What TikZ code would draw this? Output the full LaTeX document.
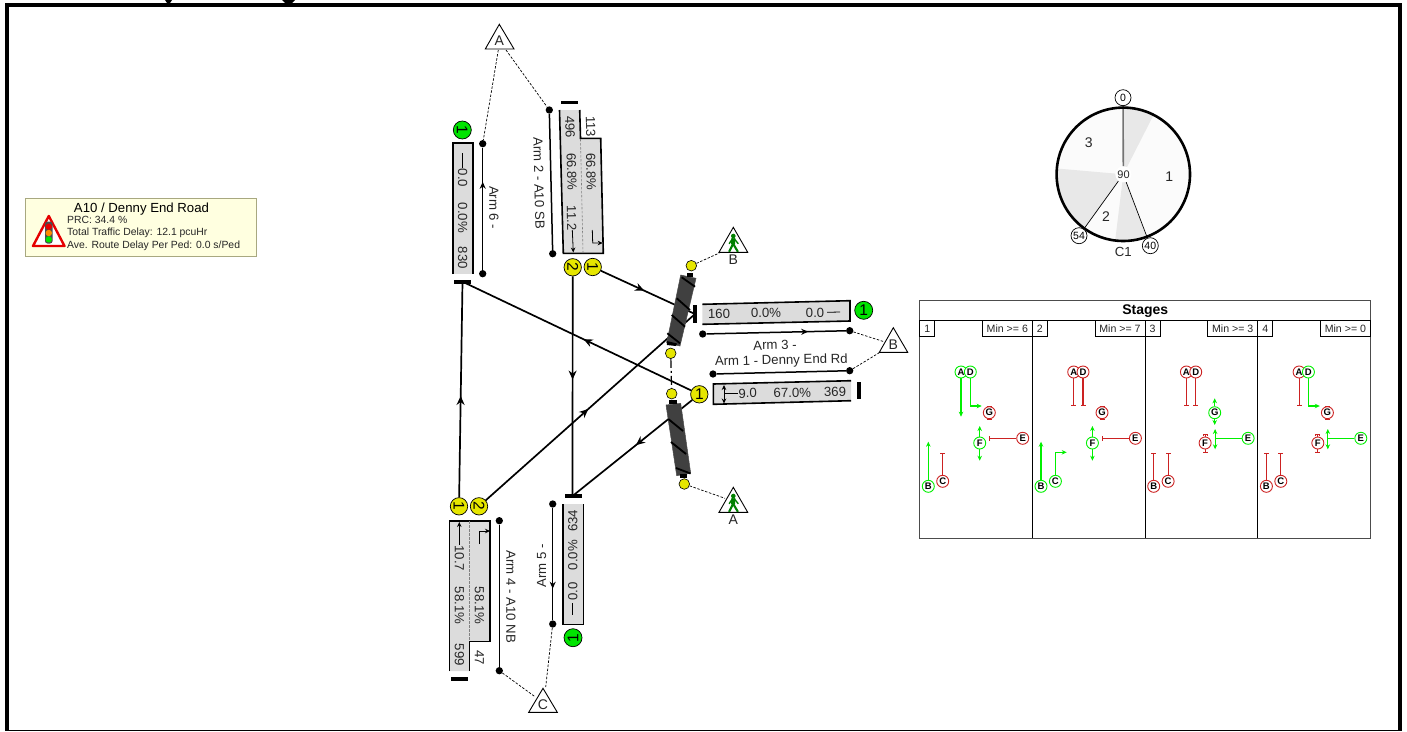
\documentclass[tikz,border=0pt]{standalone}
\usepackage{fontspec}
\setmainfont{Liberation Sans}
\usetikzlibrary{arrows.meta,decorations.markings}
\definecolor{lanegray}{HTML}{DCDCDC}
\definecolor{sigyellow}{HTML}{E6E600}
\definecolor{siggreen}{HTML}{00E400}
\definecolor{stopred}{HTML}{CC2222}
\definecolor{stopgreen}{HTML}{00F000}
\definecolor{infobg}{HTML}{FFFFE0}
\definecolor{infoline}{HTML}{A8A880}
\definecolor{crossdark}{HTML}{404040}
\definecolor{sectorgray}{HTML}{E8E8E8}
\definecolor{sectorlight}{HTML}{FBFBFB}
\definecolor{pedgreen}{HTML}{008000}
\tikzset{
  lbl/.style={inner sep=0pt,text=black!85,font=\fontsize{13.2}{14}\selectfont},
  armlbl/.style={inner sep=0pt,text=black!85,font=\fontsize{13.2}{14}\selectfont},
  trilbl/.style={inner sep=0pt,text=black!85,font=\fontsize{14}{14}\selectfont},
  lanefill/.style={fill=lanegray},
  laneedge/.style={draw=black,line width=1.6pt},
  stopbar/.style={line width=3.6pt,black},
  link/.style={line width=1.7pt,black},
  armline/.style={line width=1.5pt,black},
  dot/.style={circle,fill=black,inner sep=0pt,minimum size=7.3pt},
  tie/.style={dashed,dash pattern=on 2.5pt off 1.6pt,line width=.7pt,black},
  tri/.style={draw=black,line width=.9pt,fill=white},
  sigy/.style={circle,draw=black,line width=.7pt,fill=sigyellow,minimum size=17.4pt,inner sep=0pt,text=black,font=\fontsize{15.5}{16}\selectfont},
  sigg/.style={circle,draw=black,line width=.7pt,fill=siggreen,minimum size=18pt,inner sep=0pt,text=black,font=\fontsize{15.5}{16}\selectfont},
  pedy/.style={circle,draw=black,line width=.6pt,fill=sigyellow,minimum size=10.6pt,inner sep=0pt},
  midarr/.style={postaction={decorate,decoration={markings,mark=at position #1 with {\arrow{Stealth[length=9pt,width=8pt]}}}}},
  armarr/.style={postaction={decorate,decoration={markings,mark=at position #1 with {\arrow{Stealth[length=7pt,width=6pt]}}}}},
  smalltip/.style={-{Stealth[length=5pt,width=4.5pt]}},
  sg/.style={circle,fill=white,line width=.9pt,minimum size=12pt,inner sep=0pt,text=black,font=\bfseries\fontsize{9.5}{10}\selectfont},
  gol/.style={draw=stopgreen,line width=1.1pt},
  rol/.style={draw=stopred,line width=1.1pt,-{Bar[width=5pt,length=1.2pt]}},
  tickc/.style={circle,draw=black,line width=.7pt,fill=white,minimum size=16pt,inner sep=0pt,font=\fontsize{10.5}{11}\selectfont},
  stagetxt/.style={inner sep=0pt,text=black!85,font=\fontsize{10.6}{11}\selectfont},
  crossbody/.style={fill=crossdark,draw=black!70,line width=.5pt},
  stripe/.style={black,line width=1.8pt},
}
\newcommand{\pedman}[2]{%
  \fill[pedgreen] (#1,#2+8.7) circle (2.3pt);
  \draw[pedgreen,line width=4pt] (#1,#2+11) -- (#1-.2,#2+17);
  \draw[pedgreen,line width=2.1pt] (#1-.2,#2+16.5) -- (#1-4.2,#2+24.5);
  \draw[pedgreen,line width=2.1pt] (#1-.2,#2+16.5) -- (#1+4.6,#2+24.5);
  \draw[pedgreen,line width=1.4pt] (#1+.5,#2+11) -- (#1+5,#2+16.5);
  \draw[pedgreen,line width=1.4pt] (#1-.5,#2+11) -- (#1-4.2,#2+16.5);
}
\newcommand{\gosig}[3]{\coordinate (#3) at (#2); \draw[gol,smalltip] (#1) -- (#3);}
\newcommand{\turnsig}[3]{\coordinate (#3) at (#2); \draw[gol,smalltip] (#1) |- (#3);}
\newcommand{\stopsig}[3]{\coordinate (#3) at (#2); \draw[rol] (#1) -- (#3);}
\newcommand{\signals}[8]{%
  \node[sg,draw=#2] (#1A) at (41.3,372) {A};
  \node[sg,draw=#3] (#1D) at (50.6,372) {D};
  \node[sg,draw=#4] (#1G) at (69.6,412.7) {G};
  \node[sg,draw=#5] (#1F) at (60,443) {F};
  \node[sg,draw=#6] (#1E) at (103,438.3) {E};
  \node[sg,draw=#7] (#1B) at (8.6,486.3) {B};
  \node[sg,draw=#8] (#1C) at (23,481.3) {C};
}
\newcommand{\stagehead}[3]{%
  \draw[black,line width=.9pt] (0,336.3) rectangle (15,320.7);
  \node[stagetxt] (#1num) at (7.5,328.5) {#2};
  \draw[black,line width=.9pt] (62.6,336.3) rectangle (112.7,320.7);
  \node[stagetxt] (#1min) at (87.6,328.5) {Min >= #3};
}
\begin{document}
\begin{tikzpicture}[x=1pt,y=-1pt]
\useasboundingbox (0,0) rectangle (1407,731);
% frame
\fill[black] (5,3) rectangle (1402,7);
\fill[black] (5,3) rectangle (9,731);
\fill[black] (1398,3) rectangle (1402,731);
\fill[black] (5,730) rectangle (1402,731);
\fill[black] (165,0) -- (172,0) -- (170,3) -- (167,3) -- cycle;
\fill[black] (282,0) -- (295,0) -- (292,3) -- (285,3) -- cycle;

% info box
\draw[infoline,fill=infobg,line width=.8pt] (25.3,198.7) rectangle (256.7,256.3);
\node[inner sep=0pt,text=black,font=\fontsize{13.2}{14}\selectfont] (infotitle) at (141.5,208.7) {A10 / Denny End Road};
\node[inner sep=0pt,anchor=west,text=black!85,font=\fontsize{10.4}{11}\selectfont] (info1) at (67,219.5) {PRC: 34.4 \%};
\node[inner sep=0pt,anchor=west,text=black!85,font=\fontsize{10.4}{11}\selectfont] (info2) at (67,232.5) {Total Traffic Delay: 12.1 pcuHr};
\node[inner sep=0pt,anchor=west,text=black!85,font=\fontsize{10.4}{11}\selectfont] (info3) at (67,245.5) {Ave. Route Delay Per Ped: 0.0 s/Ped};
\draw[draw=red!90!black,fill=white,line width=2.4pt,line join=round] (48.8,216) -- (64.5,246) -- (33,246) -- cycle;
\fill[black!70,rounded corners=2.5pt] (45,221.7) rectangle (52.6,243.5);
\fill[red!90!black] (48.8,226.7) circle (3.2pt);
\fill[orange!90!yellow] (48.8,233) circle (3.2pt);
\fill[green!90!black] (48.8,239.4) circle (3.2pt);

% key coordinates
\coordinate (stop3) at (695,314);
\coordinate (stop5) at (572.5,496);
\coordinate (stop6) at (462.5,281.7);

% signal heads
\node[sigy,rotate=-90] (s2b) at (572.7,267.3) {2};
\node[sigy,rotate=-90] (s2a) at (592.7,267) {1};
\node[sigy,rotate=-90] (s4a) at (459,506.3) {1};
\node[sigy,rotate=-90] (s4b) at (479,506.3) {2};
\node[sigy] (s1a) at (699.3,394.3) {1};
\node[sigg,rotate=-90] (s6) at (462.3,130) {1};
\node[sigg,rotate=90] (s5) at (573,637.7) {1};
\node[sigg] (s3) at (863.7,310.3) {1};

% links
\draw[link,midarr=.46] (s2a) -- (stop3);
\draw[link,midarr=.47] (s2b) -- (stop5);
\draw[link,midarr=.47] (s4a) -- (stop6);
\draw[link,midarr=.49] (s4b) -- (stop3);
\draw[link,midarr=.47] (s1a) -- (stop6);
\draw[link,midarr=.47] (s1a) -- (stop5);

% stop bars
\draw[stopbar] (561,102.3) -- (578.3,102.3);
\draw[stopbar] (454,281.7) -- (471,281.7);
\draw[stopbar] (695,305) -- (695,322.7);
\draw[stopbar] (565,496) -- (581.7,496);
\draw[stopbar] (858.7,382.3) -- (858.7,399);
\draw[stopbar] (451,679) -- (467.7,679);

% arm 6 lane
\fill[lanefill] (452.7,143) rectangle (473,274);
\draw[laneedge] (452.7,274) -- (452.7,143) -- (473,143) -- (473,274);
\node[lbl,rotate=-90] (l6a) at (462.6,178) {0.0};
\node[lbl,rotate=-90] (l6b) at (462.6,218) {0.0\%};
\node[lbl,rotate=-90] (l6c) at (462.6,258) {830};
\draw[black,line width=.8pt] (462.6,153) -- (462.6,168);

% arm 2 lane
\fill[lanefill] (559.5,110) -- (563.3,253.3) -- (603.3,253.3) -- (600.7,138.3) -- (580.5,138.3) -- (579.7,110) -- cycle;
\draw[laneedge,line join=miter] (559.5,110) -- (563.3,253.3) -- (603.3,253.3) -- (600.7,138.3) -- (580.5,138.3) -- (579.7,110);
\draw[gray,line width=.6pt,dashed,dash pattern=on 2.5pt off 1.5pt] (580.5,139) -- (583,253);
\node[lbl,rotate=-88.6] (l2a) at (570,127) {496};
\node[lbl,rotate=-88.6] (l2b) at (590.7,126.7) {113};
\node[lbl,rotate=-88.6] (l2c) at (571.7,171.7) {66.8\%};
\node[lbl,rotate=-88.6] (l2d) at (591,171.7) {66.8\%};
\node[lbl,rotate=-88.6] (l2e) at (571.7,218) {11.2};
\draw[black,line width=.8pt,smalltip] (572.3,230) -- (573.3,252.5);
\draw[black,line width=.8pt,smalltip] (592.3,230) -- (592.7,243) -- (602.7,243);

% arm 3 lane
\fill[lanefill] (702.3,304.3) -- (850,300.7) -- (850,321) -- (702.3,324.3) -- cycle;
\draw[laneedge] (702.3,304.3) -- (850,300.7) -- (850,321) -- (702.3,324.3);
\node[lbl,rotate=1.3] (l3a) at (719,314) {160};
\node[lbl,rotate=1.3] (l3b) at (766,312.7) {0.0\%};
\node[lbl,rotate=1.3] (l3c) at (815,312.7) {0.0};
\draw[black,line width=.8pt] (827,312.3) -- (840,312);

% arm 1 lane
\fill[lanefill] (713.3,384) -- (851,380.7) -- (851,400.7) -- (713.3,404.3) -- cycle;
\draw[laneedge] (851,380.7) -- (713.3,384) -- (713.3,404.3) -- (851,400.7);
\draw[black,line width=.8pt,{Stealth[length=5pt,width=4.5pt]}-{Stealth[length=5pt,width=4.5pt]}] (724,385) -- (724,403.5);
\draw[black,line width=.8pt] (724,393.5) -- (738,393.5);
\node[lbl,rotate=1.3] (l1a) at (747.7,393.3) {9.0};
\node[lbl,rotate=1.3] (l1b) at (792.3,392.7) {67.0\%};
\node[lbl,rotate=1.3] (l1c) at (835,391.7) {369};

% arm 4 lane
\fill[lanefill] (449.3,671) -- (449.3,520.7) -- (490,520.7) -- (490,641.3) -- (469.3,641.3) -- (469.3,671) -- cycle;
\draw[laneedge] (449.3,671) -- (449.3,520.7) -- (490,520.7) -- (490,641.3) -- (469.3,641.3) -- (469.3,671);
\draw[gray,line width=.6pt,dashed,dash pattern=on 2.5pt off 1.5pt] (469.3,521) -- (469.3,641);
\node[lbl,rotate=-90] (l4a) at (459.3,558.3) {10.7};
\node[lbl,rotate=-90] (l4b) at (459.3,605.5) {58.1\%};
\node[lbl,rotate=-90] (l4c) at (479.3,605.5) {58.1\%};
\node[lbl,rotate=-90] (l4d) at (459.3,655) {599};
\node[lbl,rotate=-90] (l4e) at (479.3,657.7) {47};
\draw[black,line width=.8pt,smalltip] (459.3,545) -- (459.3,522);
\draw[black,line width=.8pt,smalltip] (479.3,544) -- (479.3,531) -- (490,531);

% arm 5 lane
\fill[lanefill] (562.7,504) rectangle (583.3,624.3);
\draw[laneedge] (562.7,504) -- (562.7,624.3) -- (583.3,624.3) -- (583.3,504);
\node[lbl,rotate=90] (l5a) at (572.8,520.7) {634};
\node[lbl,rotate=90] (l5b) at (572.8,555) {0.0\%};
\node[lbl,rotate=90] (l5c) at (572.8,591.7) {0.0};
\draw[black,line width=.8pt] (572.8,603) -- (572.8,615);

% arm lines
\node[dot] (d6a) at (482.7,143.7) {};
\node[dot] (d6b) at (482.7,273.7) {};
\draw[armline,armarr=.72] (d6b) -- (d6a);
\node[dot] (d2a) at (549.3,110) {};
\node[dot] (d2b) at (552.7,253.7) {};
\draw[armline] (d2a) -- (d2b);
\node[dot] (d3a) at (702.7,334) {};
\node[dot] (d3b) at (849.7,330.7) {};
\draw[armline,armarr=.73] (d3a) -- (d3b);
\node[dot] (d1a) at (713,374) {};
\node[dot] (d1b) at (849.7,370.7) {};
\draw[armline] (d1a) -- (d1b);
\node[dot] (d4a) at (499.3,520.7) {};
\node[dot] (d4b) at (499.3,670.7) {};
\draw[armline] (d4a) -- (d4b);
\node[dot] (d5a) at (552.7,504) {};
\node[dot] (d5b) at (552.7,624) {};
\draw[armline,armarr=.72] (d5a) -- (d5b);

\node[armlbl,rotate=-90] (a6) at (494,207.7) {Arm 6 -};
\node[armlbl,rotate=-88.6] (a2) at (539,183) {Arm 2 - A10 SB};
\node[armlbl,rotate=1.3] (a3) at (775,345) {Arm 3 -};
\node[armlbl,rotate=1.3] (a1) at (781.3,361) {Arm 1 - Denny End Rd};
\node[armlbl,rotate=-90] (a4) at (511,596.7) {Arm 4 - A10 NB};
\node[armlbl,rotate=90] (a5) at (541.7,566) {Arm 5 -};

% triangles
\draw[tri] (499.3,24.3) -- (514,49) -- (485.3,49) -- cycle;
\coordinate (triAa) at (498.3,50);
\coordinate (triAb) at (506,50);
\node[trilbl] (tA) at (499.3,40.5) {A};
\draw[tri] (893.3,327.7) -- (907.7,352.3) -- (879.3,352.3) -- cycle;
\coordinate (triBa) at (884,341.7);
\coordinate (triBb) at (879.3,352.7);
\node[trilbl] (tB) at (893.3,345) {B};
\draw[tri] (543,688.3) -- (557.3,712.3) -- (528.7,712.3) -- cycle;
\coordinate (triCa) at (535,696.7);
\coordinate (triCb) at (545.7,687);
\node[trilbl] (tC) at (543,704.5) {C};
\draw[tie] (triAa) -- (d6a);
\draw[tie] (triAb) -- (d2a);
\draw[tie] (d3b) -- (triBa);
\draw[tie] (d1b) -- (triBb);
\draw[tie] (d4b) -- (triCa);
\draw[tie] (d5b) -- (triCb);

% crossings
\draw[crossbody] (680.7,275) -- (696,278.3) -- (680,346) -- (666.7,342.7) -- cycle;
\fill[black] (686.7,273) rectangle (693.3,276.5);
\fill[black] (666.7,341) -- (677,343.5) -- (676,346) -- (667,345) -- cycle;
\draw[stripe] (681.7,277.3) -- (695,286.7);
\draw[stripe] (676.7,298.3) -- (690,310);
\draw[stripe] (671.7,315) -- (685,326.7);
\draw[stripe] (667.3,333.3) -- (680,343.3);
\draw[crossbody] (666,405) -- (680.7,403.3) -- (690.7,473.3) -- (676.7,475.7) -- cycle;
\fill[black] (669.3,400) rectangle (676.7,403.5);
\fill[black] (680,474) rectangle (686.7,477.7);
\draw[stripe] (668.3,419) -- (683,431);
\draw[stripe] (671,442) -- (686,454);
\draw[stripe] (676,468) -- (690.5,473.5);
% crossing signals
\node[pedy] (p1) at (691.3,265.7) {};
\node[pedy] (p2) at (670.7,353.3) {};
\node[pedy] (p3) at (671.7,393.7) {};
\node[pedy] (p4) at (684.3,484) {};
\draw[black,line width=1.2pt,dashed,dash pattern=on 9pt off 3pt on 2pt off 3pt] (p2) -- (p3);

% pedestrian triangles
\draw[tri] (733.3,227.3) -- (747.7,252.3) -- (719,252.3) -- cycle;
\pedman{733.3}{227.3}
\node[trilbl] (pB) at (733.3,259.5) {B};
\coordinate (pedBt) at (719.3,253);
\coordinate (pedAt) at (725,498.3);
\draw[tie] (p1) -- (pedBt);
\draw[tri] (733.3,487.3) -- (747.7,512.3) -- (719,512.3) -- cycle;
\pedman{733.3}{487.3}
\node[trilbl] (pA) at (733.3,520) {A};
\draw[tie] (p4) -- (pedAt);

% cycle dial
\coordinate (dialc) at (1123.3,174.3);
\fill[sectorlight] (dialc) circle (66.7pt);
\begin{scope}
\clip (dialc) circle (66.7pt);
\fill[sectorgray] (dialc) -- (1123.3,74.3) -- (1168.7,85.2) -- cycle;
\fill[sectorgray] (dialc) -- (1157.5,268.3) -- (1111.1,273.6) -- cycle;
\fill[sectorgray] (dialc) -- (1064.5,255.2) -- (1023.7,165.6) -- cycle;
\fill[white] (dialc) circle (8pt);
\end{scope}
\coordinate (t0c) at (1123,97.7);
\coordinate (t40c) at (1150.3,245.7);
\coordinate (t54c) at (1079,235.7);
\coordinate (d0s) at (1123.3,166);
\coordinate (d40s) at (1126.2,182.2);
\coordinate (d54s) at (1118.3,181.2);
\draw[black!55,line width=1.6pt] (d0s) -- (t0c);
\draw[black,line width=.7pt] (d40s) -- (t40c);
\draw[black,line width=.7pt] (d54s) -- (t54c);
\draw[black,line width=2.6pt] (dialc) circle (66.7pt);
\node[tickc] (t0) at (t0c) {0};
\node[tickc] (t40) at (t40c) {40};
\node[tickc] (t54) at (t54c) {54};
\node[inner sep=0pt,text=black!85,font=\fontsize{11}{11}\selectfont] (cyc) at (1123.6,174.3) {90};
\node[trilbl] (ph1) at (1169.3,176.7) {1};
\node[trilbl] (ph2) at (1106,216.7) {2};
\node[trilbl] (ph3) at (1088.7,142.7) {3};
\node[lbl] (c1) at (1123.3,251.7) {C1};

% stages table
\draw[black!70,line width=.9pt,fill=white] (919.7,300.7) rectangle (1370.7,538.3);
\draw[black,line width=.9pt] (919.7,320.7) -- (1370.7,320.7);
\draw[black,line width=.9pt] (1032.4,320.7) -- (1032.4,538.3);
\draw[black,line width=.9pt] (1145.1,320.7) -- (1145.1,538.3);
\draw[black,line width=.9pt] (1257.8,320.7) -- (1257.8,538.3);
\node[inner sep=0pt,font=\bfseries\fontsize{14}{14}\selectfont] (stagetitle) at (1145.2,310.7) {Stages};

\begin{scope}[xshift=919.7pt]
\stagehead{a}{1}{6}
\signals{a}{stopgreen}{stopgreen}{stopred}{stopgreen}{stopred}{stopgreen}{stopred}
\gosig{aA}{41.3,416.7}{aAe}
\turnsig{aD}{62,406}{aDe}
\stopsig{aG}{69.6,405.5}{aGt}
\stopsig{aG}{69.6,420}{aGb}
\gosig{aF}{60,426}{aFt}
\gosig{aF}{60,460.7}{aFb}
\stopsig{aE}{69.3,438.3}{aEe}
\gosig{aB}{8.6,441.7}{aBe}
\stopsig{aC}{23,452.7}{aCe}
\end{scope}

\begin{scope}[xshift=1032.4pt]
\stagehead{b}{2}{7}
\signals{b}{stopred}{stopred}{stopred}{stopgreen}{stopred}{stopgreen}{stopgreen}
\stopsig{bA}{41.3,406}{bAe}
\stopsig{bD}{50.6,406}{bDe}
\stopsig{bG}{69.6,405.5}{bGt}
\stopsig{bG}{69.6,420}{bGb}
\gosig{bF}{60,426}{bFt}
\gosig{bF}{60,460.7}{bFb}
\stopsig{bE}{69.3,438.3}{bEe}
\gosig{bB}{8.6,441.7}{bBe}
\turnsig{bC}{34.3,452.3}{bCe}
\end{scope}

\begin{scope}[xshift=1145.1pt]
\stagehead{c}{3}{3}
\signals{c}{stopred}{stopred}{stopgreen}{stopred}{stopgreen}{stopred}{stopred}
\stopsig{cA}{41.3,406}{cAe}
\stopsig{cD}{50.6,406}{cDe}
\gosig{cG}{69.6,398.3}{cGt}
\gosig{cG}{69.6,425}{cGb}
\stopsig{cF}{60,434.3}{cFt}
\stopsig{cF}{60,452.7}{cFb}
\coordinate (cEm) at (70,438.3);
\draw[gol] (cE) -- (cEm);
\gosig{cEm}{70,429}{cEt}
\gosig{cEm}{70,449.3}{cEb}
\stopsig{cB}{8.6,452.7}{cBe}
\stopsig{cC}{23,452.7}{cCe}
\end{scope}

\begin{scope}[xshift=1257.8pt]
\stagehead{d}{4}{0}
\signals{d}{stopred}{stopgreen}{stopred}{stopred}{stopgreen}{stopred}{stopred}
\stopsig{dA}{41.3,406}{dAe}
\turnsig{dD}{62,406}{dDe}
\stopsig{dG}{69.6,405.5}{dGt}
\stopsig{dG}{69.6,420}{dGb}
\stopsig{dF}{60,434.3}{dFt}
\stopsig{dF}{60,452.7}{dFb}
\coordinate (dEm) at (70,438.3);
\draw[gol] (dE) -- (dEm);
\gosig{dEm}{70,429}{dEt}
\gosig{dEm}{70,449.3}{dEb}
\stopsig{dB}{8.6,452.7}{dBe}
\stopsig{dC}{23,452.7}{dCe}
\end{scope}
\end{tikzpicture}
\end{document}
